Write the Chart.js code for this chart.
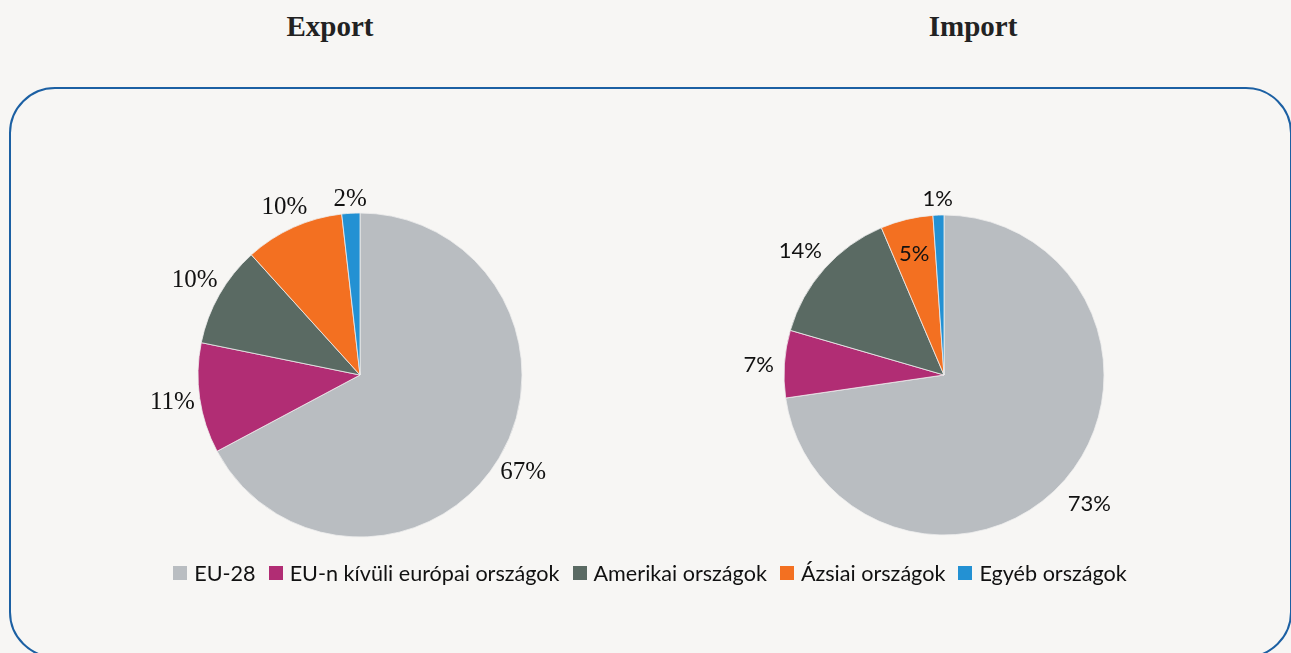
<!DOCTYPE html>
<html>
<head>
<meta charset="utf-8">
<script src="https://cdn.jsdelivr.net/npm/chart.js@4.4.1/dist/chart.umd.min.js"></script>
<style>
    html, body { margin: 0; padding: 0; }
    body { width: 1291px; height: 653px; background: #f7f6f4; position: relative; overflow: hidden; }
    .title { position: absolute; top: 10px; font: bold 29px "Liberation Serif", serif; color: #222; transform: translateX(-50%); }
    #frame { position: absolute; left: 9px; top: 87px; width: 1279px; height: 567px; border: 2px solid #1c60a3; border-radius: 46px; }
    .pie { position: absolute; top: 175px; width: 460px; height: 400px; }
    #legend { position: absolute; left: 0; width: 1291px; top: 560px; display: flex; justify-content: center; padding-left: 22px; box-sizing: border-box;
              font: 21.6px Lato, sans-serif; color: #111; }
    #legend span { display: flex; align-items: center; margin-right: 13px; }
    #legend i { display: inline-block; width: 14px; height: 14px; margin-right: 7px; }
</style>
</head>
<body>
<div class="title" style="left:330px">Export</div>
<div class="title" style="left:973px">Import</div>
<div id="frame"></div>
<div class="pie" style="left:130px"><canvas id="exportChart"></canvas></div>
<div class="pie" style="left:714px"><canvas id="importChart"></canvas></div>
<div id="legend"></div>
<script>
const categories = ['EU-28', 'EU-n kívüli európai országok', 'Amerikai országok', 'Ázsiai országok', 'Egyéb országok'];
const exportShare = [67.2, 11.0, 10.1, 9.9, 1.8];
const importShare = [72.7, 6.8, 14.1, 5.3, 1.1];
const colors = ['#b9bdc1', '#b12d74', '#5a6a63', '#f37021', '#2391d3'];

// percent labels around the pie (Excel style "outside end")
const pieLabels = {
    id: 'pieLabels',
    afterDatasetsDraw(chart, args, opts) {
        const ctx = chart.ctx;
        const meta = chart.getDatasetMeta(0);
        const values = chart.data.datasets[0].data;
        ctx.save();
        ctx.font = opts.font;
        ctx.fillStyle = '#111';
        ctx.textAlign = 'center';
        ctx.textBaseline = 'middle';
        meta.data.forEach((arc, i) => {
            const p = arc.getProps(['x', 'y', 'startAngle', 'endAngle', 'outerRadius'], true);
            const mid = (p.startAngle + p.endAngle) / 2;
            const cos = Math.cos(mid), sin = Math.sin(mid);
            const text = Math.round(values[i]) + '%';
            let d;
            if (opts.inside.includes(i)) {
                d = p.outerRadius * 0.8;
            } else {
                const w = ctx.measureText(text).width;
                d = p.outerRadius + opts.gap + Math.abs(cos) * w / 2 + Math.abs(sin) * 9;
            }
            ctx.fillText(text, p.x + cos * d, p.y + sin * d + opts.dy);
        });
        ctx.restore();
    }
};

function makePie(id, values, radius, labelOpts) {
    return new Chart(document.getElementById(id), {
        type: 'pie',
        data: {
            labels: categories,
            datasets: [{
                data: values,
                backgroundColor: colors,
                borderColor: '#eeeeee',
                borderWidth: 0.8,
                radius: radius
            }]
        },
        options: {
            responsive: true,
            maintainAspectRatio: false,
            animation: false,
            layout: { padding: 0 },
            plugins: {
                legend: { display: false },
                tooltip: { enabled: false },
                pieLabels: labelOpts
            }
        },
        plugins: [pieLabels]
    });
}

makePie('exportChart', exportShare, 162, { font: '25px "Liberation Serif", serif', gap: 4, dy: 0, inside: [] });
makePie('importChart', importShare, 160, { font: '22px Lato, sans-serif', gap: 10, dy: 3, inside: [3] });

// legend
const legend = document.getElementById('legend');
categories.forEach((c, i) => {
    const s = document.createElement('span');
    s.innerHTML = '<i style="background:' + colors[i] + '"></i>' + c;
    legend.appendChild(s);
});
</script>
</body>
</html>
